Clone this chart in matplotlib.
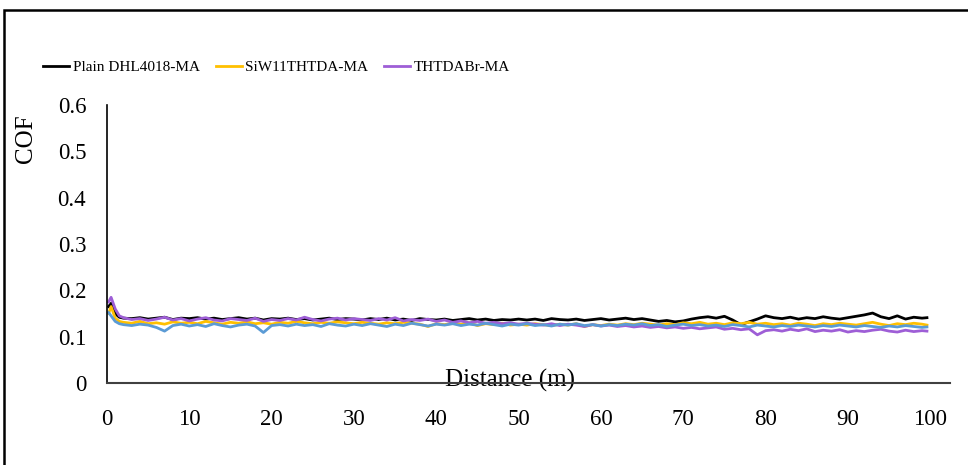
import numpy as np
import matplotlib
matplotlib.use("Agg")
import matplotlib.pyplot as plt
from matplotlib.patches import Rectangle

plt.rcParams["font.family"] = ["Liberation Serif", "DejaVu Serif"]

distance = [0.2, 0.5, 1.0, 1.5] + list(range(2, 100)) + [99.6]

cof_plain = [0.165, 0.172, 0.150, 0.142,
             0.140, 0.139, 0.141, 0.138, 0.140, 0.142, 0.137, 0.140, 0.139,
             0.141, 0.138, 0.140, 0.137, 0.139, 0.141, 0.138, 0.140, 0.136, 0.139,
             0.138, 0.140, 0.137, 0.139, 0.136, 0.138, 0.140, 0.137, 0.139, 0.138,
             0.136, 0.139, 0.137, 0.140, 0.136, 0.138, 0.135, 0.139, 0.137, 0.136,
             0.138, 0.135, 0.137, 0.139, 0.136, 0.138, 0.135, 0.137, 0.136, 0.138,
             0.136, 0.138, 0.135, 0.139, 0.137, 0.136, 0.138, 0.135, 0.137, 0.139,
             0.136, 0.138, 0.140, 0.137, 0.139, 0.136, 0.133, 0.135, 0.132, 0.134,
             0.138, 0.141, 0.143, 0.140, 0.144, 0.136, 0.126, 0.132, 0.138, 0.145,
             0.141, 0.139, 0.142, 0.138, 0.141, 0.139, 0.143, 0.140, 0.138, 0.141,
             0.144, 0.147, 0.151, 0.143, 0.139, 0.145, 0.138, 0.142, 0.140,
             0.141]

cof_siw = [0.150, 0.165, 0.140, 0.133,
           0.131, 0.129, 0.133, 0.128, 0.130, 0.127, 0.132, 0.129, 0.131,
           0.128, 0.133, 0.130, 0.127, 0.131, 0.129, 0.132, 0.128, 0.130, 0.127,
           0.131, 0.129, 0.133, 0.130, 0.128, 0.131, 0.129, 0.132, 0.130, 0.128,
           0.131, 0.129, 0.127, 0.130, 0.128, 0.131, 0.129, 0.127, 0.122, 0.128,
           0.126, 0.129, 0.127, 0.130, 0.124, 0.128, 0.126, 0.129, 0.125, 0.127,
           0.125, 0.128, 0.126, 0.124, 0.127, 0.125, 0.128, 0.122, 0.126, 0.124,
           0.127, 0.125, 0.128, 0.126, 0.129, 0.127, 0.125, 0.128, 0.126, 0.130,
           0.128, 0.131, 0.127, 0.129, 0.126, 0.130, 0.128, 0.131, 0.127, 0.129,
           0.126, 0.128, 0.125, 0.129, 0.127, 0.124, 0.128, 0.126, 0.129, 0.127,
           0.125, 0.128, 0.131, 0.127, 0.124, 0.128, 0.126, 0.129, 0.127,
           0.125]

cof_thtdabr = [0.175, 0.185, 0.160, 0.145,
               0.141, 0.137, 0.139, 0.135, 0.138, 0.142, 0.136, 0.139, 0.134,
               0.138, 0.141, 0.136, 0.134, 0.139, 0.137, 0.135, 0.140, 0.133, 0.137,
               0.135, 0.139, 0.136, 0.142, 0.137, 0.134, 0.138, 0.140, 0.136, 0.139,
               0.137, 0.135, 0.139, 0.136, 0.141, 0.134, 0.137, 0.135, 0.138, 0.133,
               0.136, 0.131, 0.134, 0.130, 0.133, 0.129, 0.131, 0.128, 0.130, 0.127,
               0.129, 0.127, 0.125, 0.128, 0.124, 0.127, 0.125, 0.122, 0.126, 0.123,
               0.125, 0.122, 0.124, 0.121, 0.123, 0.120, 0.122, 0.119, 0.121, 0.118,
               0.120, 0.117, 0.119, 0.121, 0.116, 0.118, 0.115, 0.117, 0.104, 0.113,
               0.115, 0.112, 0.116, 0.113, 0.117, 0.111, 0.114, 0.112, 0.115, 0.110,
               0.113, 0.111, 0.114, 0.116, 0.112, 0.110, 0.114, 0.111, 0.113,
               0.112]

# fourth curve, drawn but not in the legend
cof_blue = [0.152, 0.145, 0.133, 0.128,
            0.126, 0.124, 0.127, 0.125, 0.120, 0.112, 0.124, 0.127, 0.123,
            0.126, 0.122, 0.128, 0.124, 0.121, 0.125, 0.127, 0.123, 0.109, 0.124,
            0.126, 0.123, 0.127, 0.124, 0.126, 0.122, 0.128, 0.125, 0.123, 0.127,
            0.124, 0.128, 0.125, 0.122, 0.127, 0.124, 0.129, 0.126, 0.123, 0.127,
            0.125, 0.128, 0.124, 0.127, 0.125, 0.129, 0.126, 0.123, 0.127, 0.125,
            0.128, 0.124, 0.126, 0.123, 0.127, 0.125, 0.128, 0.124, 0.126, 0.123,
            0.126, 0.124, 0.127, 0.125, 0.128, 0.124, 0.126, 0.122, 0.125, 0.127,
            0.124, 0.126, 0.123, 0.125, 0.122, 0.126, 0.124, 0.121, 0.125, 0.123,
            0.121, 0.124, 0.122, 0.125, 0.123, 0.121, 0.124, 0.122, 0.125, 0.123,
            0.121, 0.124, 0.122, 0.120, 0.123, 0.121, 0.124, 0.122, 0.120,
            0.121]

labels = ["Plain DHL4018-MA", "SiW11THTDA-MA", "THTDABr-MA"]
y_ticks = [0, 0.1, 0.2, 0.3, 0.4, 0.5, 0.6]
x_ticks = [0, 10, 20, 30, 40, 50, 60, 70, 80, 90, 100]

fig = plt.figure(figsize=(9.68, 4.65), dpi=100)
ax = fig.add_axes([0.1105, 0.1763, 0.8709, 0.5979])

lw = 2.0
ax.plot(distance, cof_plain, color="#000000", lw=lw, label=labels[0])
ax.plot(distance, cof_siw, color="#FFC000", lw=lw, label=labels[1])
ax.plot(distance, cof_thtdabr, color="#9E5ED6", lw=lw, label=labels[2])
ax.plot(distance, cof_blue, color="#5B9BD5", lw=lw, label="_nolegend_")

ax.set_xlim(0, 102.4)
ax.set_ylim(0, 0.6)
ax.set_xticks(x_ticks)
ax.set_yticks(y_ticks)
ax.set_yticklabels(["0", "0.1", "0.2", "0.3", "0.4", "0.5", "0.6"])
ax.tick_params(axis="both", length=0, labelsize=16.5)
ax.tick_params(axis="x", pad=19)
ax.tick_params(axis="y", pad=15)

for s in ["top", "right"]:
    ax.spines[s].set_visible(False)
ax.spines["bottom"].set_color("#404040")
ax.spines["bottom"].set_linewidth(1.5)
ax.spines["left"].set_color("#000000")
ax.spines["left"].set_linewidth(1.2)

ax.set_ylabel("COF", fontsize=18)
ax.yaxis.set_label_coords(-0.083, 0.88)
ax.set_xlabel("Distance (m)", fontsize=18)
ax.xaxis.set_label_coords(0.478, 0.05)

fig.legend(loc="center", bbox_to_anchor=(0.2857, 0.855), ncol=3, frameon=False,
           fontsize=11, handlelength=1.7, handletextpad=0.25, columnspacing=1.0)

# outer frame (runs off the right and bottom of the image)
fig.patches.append(Rectangle((0.0045, -0.2), 1.2, 0.2 + 0.9785, transform=fig.transFigure,
                             fill=False, edgecolor="black", lw=1.8, clip_on=False))

fig.savefig("out.png", dpi=100)
